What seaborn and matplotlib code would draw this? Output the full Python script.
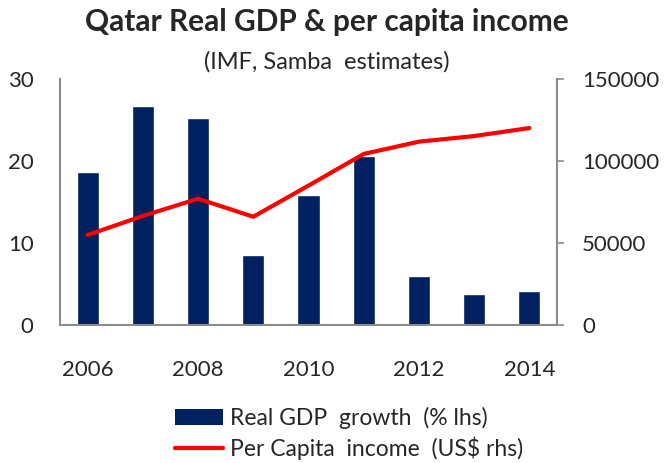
import numpy as np
import pandas as pd
import seaborn as sns
import matplotlib.pyplot as plt
from matplotlib.patches import Patch
from matplotlib.lines import Line2D

# data
years = [2006, 2007, 2008, 2009, 2010, 2011, 2012, 2013, 2014]
gdp_growth = [18.6, 26.7, 25.2, 8.5, 15.9, 20.6, 6.0, 3.8, 4.1]
per_capita = [54900, 66500, 77000, 66000, 85000, 104300, 111800, 115200, 120100]
x_ticks = [2006, 2008, 2010, 2012, 2014]

df = pd.DataFrame({"year": years, "gdp": gdp_growth, "income": per_capita})

navy = "#002060"
red = "#ff0000"
grey = "#8c8c8c"

sns.set_style("white")
plt.rcParams["font.family"] = ["Lato", "DejaVu Sans"]

fig, ax = plt.subplots(figsize=(6.67, 4.63), dpi=100)
fig.subplots_adjust(left=60/667, right=557/667, top=1-79/463, bottom=1-325/463)

sns.barplot(data=df, x="year", y="gdp", native_scale=True, color=navy,
            width=0.4, saturation=1, ax=ax)
ax.set_ylim(0, 30)
ax.set_yticks([0, 10, 20, 30])
ax.set_xlim(2005.5, 2014.5)
ax.set_xticks(x_ticks)
ax.set_xticklabels([str(y) for y in x_ticks])
ax.set_xlabel("")
ax.set_ylabel("")
ax.tick_params(axis="x", labelsize=16, length=0, pad=25)
ax.tick_params(axis="y", labelsize=16, length=0, pad=19)

ax2 = ax.twinx()
sns.lineplot(data=df, x="year", y="income", color=red, linewidth=3, ax=ax2)
ax2.set_ylim(0, 150000)
ax2.set_yticks([0, 50000, 100000, 150000])
ax2.set_ylabel("")
ax2.tick_params(axis="y", labelsize=16, length=5, width=1.2, color=grey,
                direction="out", pad=13)

for a in (ax, ax2):
    for s in a.spines.values():
        s.set_visible(False)
ax.spines["left"].set_visible(True)
ax.spines["bottom"].set_visible(True)
ax2.spines["right"].set_visible(True)
for s in (ax.spines["left"], ax.spines["bottom"], ax2.spines["right"]):
    s.set_color(grey)
    s.set_linewidth(1.5)

fig.text(0.49, 0.952, "Qatar Real GDP & per capita income", ha="center",
         va="center", fontsize=21.5, fontweight="bold")
fig.text(0.49, 0.866, "(IMF, Samba  estimates)", ha="center", va="center",
         fontsize=17)

handles = [Patch(facecolor=navy, edgecolor="none"),
           Line2D([0], [0], color=red, linewidth=3)]
labels = ["Real GDP  growth  (% lhs)", "Per Capita  income  (US$ rhs)"]
fig.legend(handles, labels, loc="upper left", bbox_to_anchor=(0.262, 0.122),
           frameon=False, fontsize=16.5, handlelength=2.1, handleheight=0.7,
           handletextpad=0.3, labelspacing=0.35, borderaxespad=0, borderpad=0)

fig.savefig("out.png", dpi=100)
